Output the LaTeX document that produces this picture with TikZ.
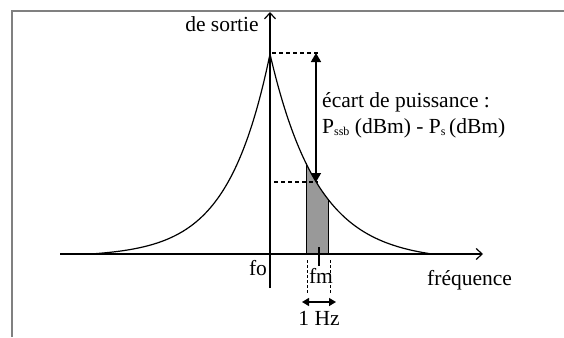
\documentclass[tikz,border=0pt]{standalone}
\usepackage{fontspec}
\setmainfont{Liberation Serif}
\usetikzlibrary{arrows.meta}
\begin{document}
\begin{tikzpicture}[x=1pt,y=-1pt,
  lbl/.style={inner sep=0pt,font=\fontsize{21.5}{24}\selectfont},
  axis/.style={line width=1.6pt,-{Straight Barb[length=6pt,width=11pt,line width=1.2pt]}},
  dimarrow/.style={line width=1.6pt,{Triangle[length=9pt,width=10pt]}-{Triangle[length=9pt,width=10pt]}},
  guide/.style={line width=1.2pt,dash pattern=on 4pt off 3pt},
  thinguide/.style={line width=0.7pt,dash pattern=on 3pt off 2pt},
  curve/.style={line width=1.2pt},
  frame/.style={draw=gray,line width=1.8pt}
]
\useasboundingbox (0,0) rectangle (564,337);
% frame
\draw[frame] (12,337) -- (12,11) -- (565,11);
% coordinates
\coordinate (xs) at (60,254);
\coordinate (xe) at (483,254);
\coordinate (ys) at (270,288);
\coordinate (ye) at (270,12);
\coordinate (pk) at (270,54);
% shaded band
\fill[fill=gray!80] (306,254) -- plot[domain=306:328,samples=30]
  (\x,{254-200*(exp(-(\x-270)/48)-0.0342)/(1-0.0342)}) -- (328,254) -- cycle;
\draw[line width=1pt] (306,254) -- (306,{254-200*(exp(-(306-270)/48)-0.0342)/(1-0.0342)});
\draw[line width=1pt] (328,254) -- (328,{254-200*(exp(-(328-270)/48)-0.0342)/(1-0.0342)});
% curve
\draw[curve] plot[domain=90:270,samples=120,smooth]
  (\x,{254-200*(exp(-(270-\x)/42)-0.0138)/(1-0.0138)});
\draw[curve] plot[domain=270:432,samples=120,smooth]
  (\x,{254-200*(exp(-(\x-270)/48)-0.0342)/(1-0.0342)});
% axes
\draw[axis] (xs) -- (xe);
\draw[axis] (ys) -- (ye);
% dashed guides
\coordinate (t1) at (272,53);
\coordinate (t2) at (318,53);
\coordinate (b1) at (274,182);
\coordinate (b2) at (318,182);
\draw[guide] (t1) -- (t2);
\draw[guide] (b1) -- (b2);
\coordinate (a1) at (316,53);
\coordinate (a2) at (316,182);
\draw[dimarrow] (a1) -- (a2);
% fm tick
\coordinate (m1) at (319,247);
\coordinate (m2) at (319,266);
\draw[line width=1.6pt] (m1) -- (m2);
% 1 Hz guides
\coordinate (g1) at (307,260);
\coordinate (g2) at (307,294);
\coordinate (g3) at (330,260);
\coordinate (g4) at (330,294);
\draw[thinguide] (g1) -- (g2);
\draw[thinguide] (g3) -- (g4);
\coordinate (h1) at (302,302);
\coordinate (h2) at (336,302);
\draw[line width=1.4pt,{Triangle[length=7pt,width=8pt]}-{Triangle[length=7pt,width=8pt]}] (h1) -- (h2);
% labels
\node[lbl,anchor=base] (sortie) at (222,32) {de sortie};
\node[lbl,anchor=base west] (ecart) at (322,107) {écart de puissance :};
\node[lbl,anchor=base west] (pssb) at (322,133) {P\raisebox{-2pt}{\fontsize{12}{12}\selectfont ssb} (dBm) - P\raisebox{-2pt}{\fontsize{12}{12}\selectfont s}\,(dBm)};
\node[lbl,anchor=base] (fo) at (258,275) {fo};
\node[lbl,anchor=base] (fm) at (321,283) {fm};
\node[lbl,anchor=base west] (freq) at (427,285) {fréquence};
\node[lbl,anchor=base] (hz) at (319,325) {1 Hz};
\end{tikzpicture}
\end{document}
